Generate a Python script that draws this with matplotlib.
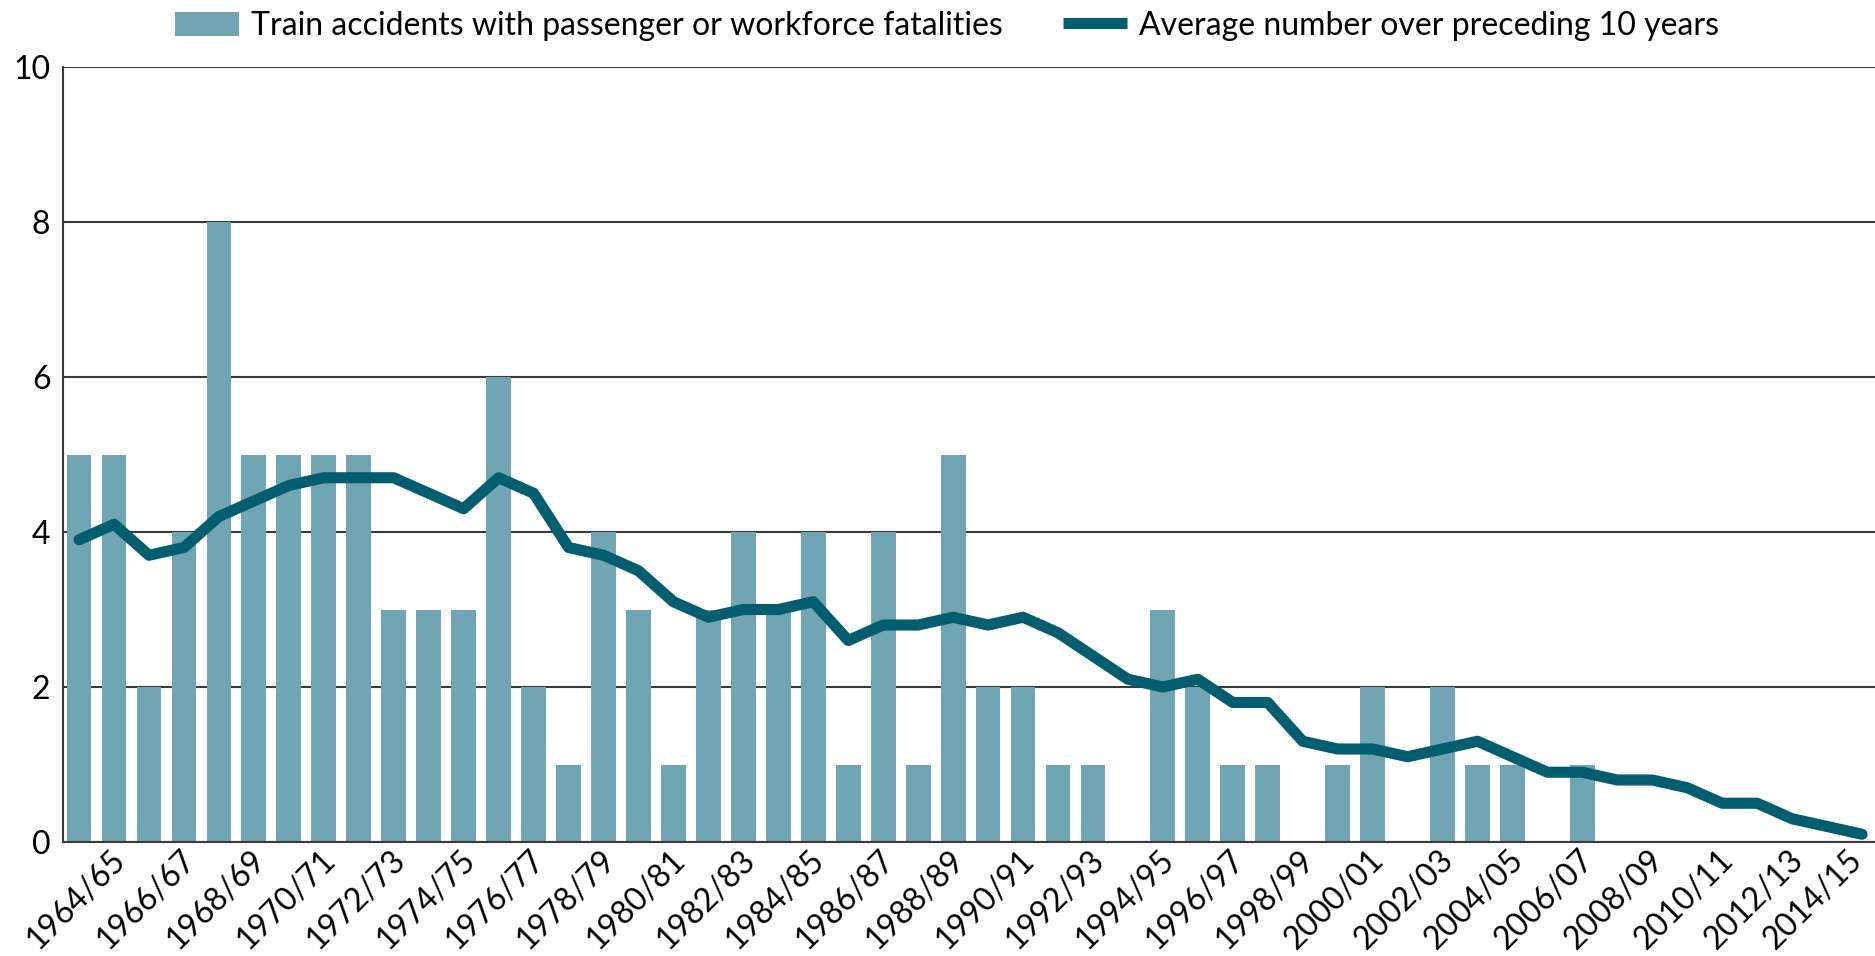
import matplotlib
matplotlib.use("Agg")
import matplotlib.pyplot as plt
import matplotlib.transforms as mtransforms
from matplotlib.lines import Line2D
from matplotlib.patches import Patch
import numpy as np

plt.rcParams['font.family'] = ['Lato', 'DejaVu Sans']

years = [f"{y}/{str(y + 1)[-2:]}" for y in range(1963, 2015)]
accidents = [5, 5, 2, 4, 8, 5, 5, 5, 5, 3, 3, 3, 6, 2, 1, 4, 3, 1, 3, 4,
             3, 4, 1, 4, 1, 5, 2, 2, 1, 1, 0, 3, 2, 1, 1, 0, 1, 2, 0, 2,
             1, 1, 0, 1, 0, 0, 0, 0, 0, 0, 0, 0]
avg10 = [3.9, 4.1, 3.7, 3.8, 4.2, 4.4, 4.6, 4.7, 4.7, 4.7, 4.5, 4.3, 4.7, 4.5,
         3.8, 3.7, 3.5, 3.1, 2.9, 3.0, 3.0, 3.1, 2.6, 2.8, 2.8, 2.9, 2.8, 2.9,
         2.7, 2.4, 2.1, 2.0, 2.1, 1.8, 1.8, 1.3, 1.2, 1.2, 1.1, 1.2, 1.3, 1.1,
         0.9, 0.9, 0.8, 0.8, 0.7, 0.5, 0.5, 0.3, 0.2, 0.1]
yticks = [0, 2, 4, 6, 8, 10]
bar_label = "Train accidents with passenger or workforce fatalities"
line_label = "Average number over preceding 10 years"

bar_color = "#72a5b4"
line_color = "#005e6e"
grid_color = "#3a3a3a"
FS = 23

fig = plt.figure(figsize=(18.75, 9.56), dpi=100)
ax = fig.add_axes([63 / 1875, 1 - 842 / 956, 1 - 63 / 1875, (842 - 67) / 956])

x = np.arange(len(years))
ax.bar(x, accidents, width=0.71, color=bar_color, zorder=2)
ax.plot(x, avg10, color=line_color, lw=8, zorder=3, solid_capstyle='round',
        solid_joinstyle='round')

ax.set_xlim(-0.46, 51.37)
ax.set_ylim(0, 10)
ax.set_yticks(yticks)
ax.set_yticklabels([str(v) for v in yticks], fontsize=FS)
ax.yaxis.grid(True, color=grid_color, lw=1.5, zorder=0)
ax.set_axisbelow(True)

ax.set_xticks(x[1::2])
ax.set_xticklabels(years[1::2], rotation=45, ha='right', va='top',
                   rotation_mode='anchor', fontsize=FS)
ax.tick_params(axis='both', length=0)
ax.tick_params(axis='y', pad=9)
ax.tick_params(axis='x', pad=2)
labels = ax.get_xticklabels()
for i, lab in enumerate(labels):
    dx = -4 if i < len(labels) - 1 else -15
    off = mtransforms.ScaledTranslation(dx / 100, 0, fig.dpi_scale_trans)
    lab.set_transform(lab.get_transform() + off)

for s in ['top', 'right']:
    ax.spines[s].set_visible(False)
for s in ['left', 'bottom']:
    ax.spines[s].set_color(grid_color)
    ax.spines[s].set_linewidth(1.5)

handles = [Patch(facecolor=bar_color, edgecolor='none'),
           Line2D([], [], color=line_color, lw=8, solid_capstyle='butt')]
fig.legend(handles, [bar_label, line_label], loc='center left',
           bbox_to_anchor=(175 / 1875, 1 - 26 / 956), ncol=2, frameon=False,
           fontsize=FS, handlelength=2.0, handleheight=0.78, columnspacing=1.9,
           handletextpad=0.37, borderpad=0, borderaxespad=0)

fig.savefig("out.png", dpi=100)
